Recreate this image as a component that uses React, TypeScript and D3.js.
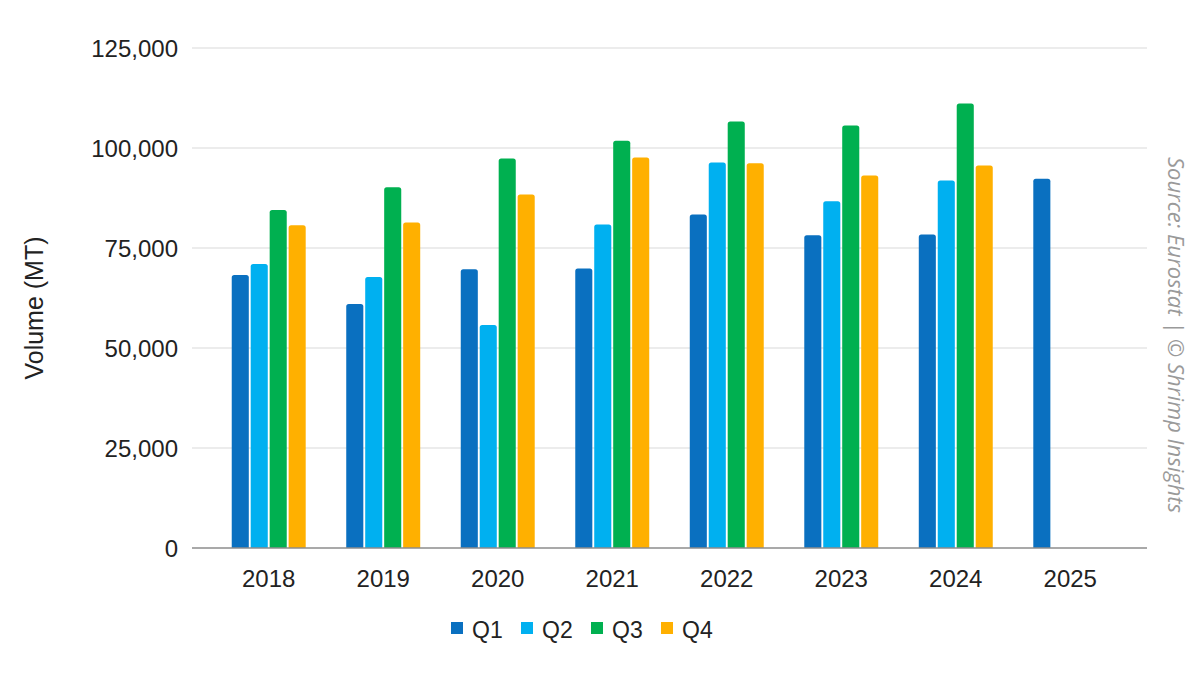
import * as d3 from 'd3';

// Quarterly shrimp import volumes (MT)
const years = ['2018', '2019', '2020', '2021', '2022', '2023', '2024', '2025'];
const quarters = ['Q1', 'Q2', 'Q3', 'Q4'];
const q1 = [68250, 61000, 69700, 69900, 83400, 78200, 78400, 92300];
const q2 = [71000, 67750, 55750, 80900, 96400, 86700, 91900, null];
const q3 = [84500, 90200, 97400, 101800, 106600, 105600, 111100, null];
const q4 = [80700, 81400, 88400, 97600, 96200, 93100, 95600, null];
const yTicks = [0, 25000, 50000, 75000, 100000, 125000];

const COLORS = ['#0A70C0', '#00B0F0', '#00B050', '#FFB000'];
const FONT = '"Liberation Sans", Arial, sans-serif';

const W = 1200;
const H = 675;
const margin = { top: 48, right: 53, bottom: 127, left: 192 };

// bar path with rounded top corners only
function barPath(x: number, y: number, w: number, h: number, r: number) {
  const rr = Math.min(r, h, w / 2);
  return `M${x},${y + h}V${y + rr}Q${x},${y} ${x + rr},${y}H${x + w - rr}Q${x + w},${y} ${x + w},${y + rr}V${y + h}Z`;
}

export default function App() {
  const series = [q1, q2, q3, q4];

  const x0 = d3
    .scaleBand<string>()
    .domain(years)
    .range([margin.left, W - margin.right])
    .paddingInner(0.354)
    .paddingOuter(0.347);

  const x1 = d3
    .scaleBand<string>()
    .domain(quarters)
    .range([0, x0.bandwidth()])
    .paddingInner(0.1);

  const y = d3
    .scaleLinear()
    .domain([0, 125000])
    .range([H - margin.bottom, margin.top]);

  const fmt = d3.format(',');
  const legendX = d3.scalePoint<string>().domain(quarters).range([451, 661]);

  return (
    <div style={{ position: 'fixed', left: 0, top: 0 }}>
      <svg width={W} height={H} style={{ display: 'block', background: '#fff' }}>
        {/* gridlines */}
        {yTicks.slice(1).map((t) => (
          <line
            key={t}
            x1={margin.left}
            x2={W - margin.right}
            y1={y(t)}
            y2={y(t)}
            stroke="#d9d9d9"
            strokeWidth={1}
          />
        ))}

        {/* y tick labels */}
        {yTicks.map((t) => (
          <text
            key={t}
            x={178}
            y={y(t)}
            textAnchor="end"
            dominantBaseline="central"
            fontFamily={FONT}
            fontSize={24}
            fill="#222"
          >
            {fmt(t)}
          </text>
        ))}

        {/* y axis title */}
        <text
          transform={`translate(43,${(y(0) + y(125000)) / 2 + 10}) rotate(-90)`}
          textAnchor="middle"
          fontFamily={FONT}
          fontSize={25}
          fill="#222"
        >
          Volume (MT)
        </text>

        {/* bars */}
        {years.map((yr, i) => (
          <g key={yr} transform={`translate(${x0(yr)},0)`}>
            {quarters.map((q, j) => {
              const v = series[j][i];
              if (v == null) return null;
              const top = y(v);
              return (
                <path
                  key={q}
                  d={barPath(x1(q) || 0, top, x1.bandwidth(), y(0) - top, 2.5)}
                  fill={COLORS[j]}
                />
              );
            })}
          </g>
        ))}

        {/* baseline */}
        <line
          x1={margin.left}
          x2={W - margin.right}
          y1={y(0)}
          y2={y(0)}
          stroke="#8c8c8c"
          strokeWidth={1.5}
        />

        {/* x labels */}
        {years.map((yr) => (
          <text
            key={yr}
            x={(x0(yr) || 0) + x0.bandwidth() / 2}
            y={587}
            textAnchor="middle"
            fontFamily={FONT}
            fontSize={24}
            fill="#222"
          >
            {yr}
          </text>
        ))}

        {/* legend */}
        {quarters.map((q, j) => (
          <g key={q} transform={`translate(${legendX(q)},0)`}>
            <rect x={0} y={622} width={12} height={12} fill={COLORS[j]} />
            <text x={21} y={638} fontFamily={FONT} fontSize={23} fill="#222">
              {q}
            </text>
          </g>
        ))}

        {/* source */}
        <text
          transform="translate(1168,335) rotate(90)"
          textAnchor="middle"
          fontFamily='"Open Sans", sans-serif'
          fontStyle="italic"
          fontSize={22}
          fill="#9a9a9a"
        >
          Source: Eurostat | © Shrimp Insights
        </text>
      </svg>
    </div>
  );
}
